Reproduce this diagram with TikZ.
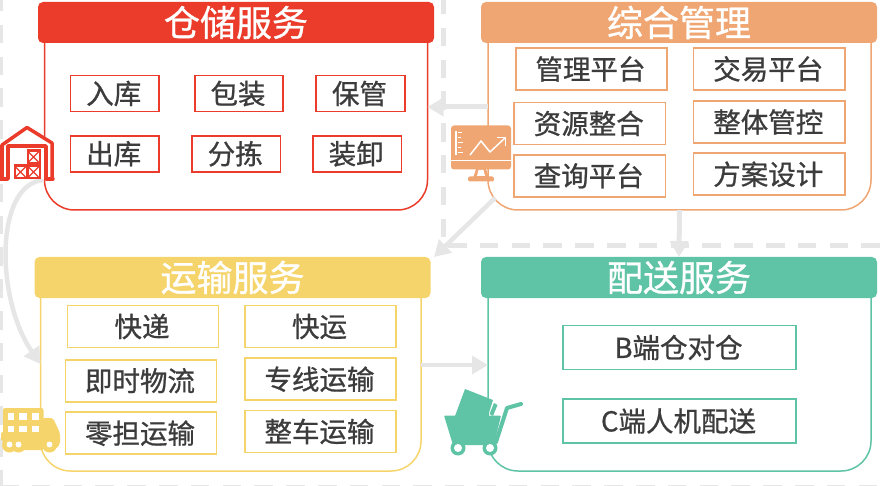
\documentclass[tikz,border=0pt]{standalone}
\usepackage{fontspec}
\setmainfont{Noto Sans CJK SC}[FakeBold=0.8]
\usetikzlibrary{arrows.meta,calc}
\definecolor{cred}{HTML}{EA3B2B}
\definecolor{corange}{HTML}{F0A672}
\definecolor{cyellow}{HTML}{F5D56B}
\definecolor{cgreen}{HTML}{5FC3A6}
\definecolor{cgrey}{HTML}{E6E6E6}
\definecolor{ctext}{HTML}{3C3C3C}
\tikzset{
  anchorbox/.style={rectangle,inner sep=0pt,outer sep=0pt},
  bodyline/.style={line width=1.5pt,rounded corners=30pt},
  header/.style={rectangle,rounded corners=5pt,fill=#1,text=white,inner sep=0pt,outer sep=0pt,
    minimum width=396pt,minimum height=41pt,font=\fontsize{36}{36}\selectfont},
  tag/.style={rectangle,draw=#1,line width=1.7pt,fill=white,text=ctext,inner sep=0pt,outer sep=0pt,
    font=\fontsize{27.5}{28}\selectfont},
  redtag/.style={tag=cred,minimum width=88.5pt,minimum height=36pt},
  orangetag/.style={tag=corange,minimum width=151.5pt,minimum height=42pt},
  yellowtag/.style={tag=cyellow,minimum width=151pt,minimum height=42pt},
  greentag/.style={tag=cgreen,minimum width=233pt,minimum height=44pt},
  dashline/.style={cgrey,line width=#1,dash pattern=on 18.5pt off 13.3pt},
  flow/.style={cgrey,line width=#1,-{Triangle[length=16pt,width=18pt]}},
}
\begin{document}
\begin{tikzpicture}[x=1pt,y=-1pt]
\path[use as bounding box,clip] (0,0) rectangle (880,486);
% body frames (geometry only)
\node[anchorbox,minimum width=383pt,minimum height=168pt] (cb) at (236,126) {};
\node[anchorbox,minimum width=383pt,minimum height=168pt] (zb) at (679.5,126) {};
\node[anchorbox,minimum width=380.5pt,minimum height=173pt] (yb) at (230.75,384.5) {};
\node[anchorbox,minimum width=383pt,minimum height=173pt] (gb) at (679.5,384.5) {};
\node[anchorbox,minimum width=53pt,minimum height=54pt] (wh) at (26.5,153) {};
% dashed separators
\coordinate (dvt) at (443.5,-4);
\coordinate (dvb) at (443.5,245.5);
\coordinate (dhl) at (448,245.5);
\coordinate (dhr) at (880,245.5);
\coordinate (dlt) at (0.5,-7);
\coordinate (dlb) at (0.5,486);
\coordinate (dbl) at (0,486);
\coordinate (dbr) at (880,486);
\draw[dashline=5pt] (dvt) -- (dvb);
\draw[dashline=5pt] (dhl) -- (dhr);
\draw[dashline=4pt] (dlt) -- (dlb);
\draw[dashline=3pt] (dbl) -- (dbr);
% card outlines
\draw[bodyline,cred] (cb.north west) -- (cb.south west) -- (cb.south east) -- (cb.north east);
\draw[bodyline,corange] (zb.north west) -- (zb.south west) -- (zb.south east) -- (zb.north east);
\draw[bodyline,cyellow] (yb.north west) -- (yb.south west) -- (yb.south east) -- (yb.north east);
\draw[bodyline,cgreen] (gb.north west) -- (gb.south west) -- (gb.south east) -- (gb.north east);
% headers
\node[header=cred] (ch) at (236,22.5) {仓储服务};
\node[header=corange] (zh) at (679,22.5) {综合管理};
\node[header=cyellow] (yh) at (232.5,277.5) {运输服务};
\node[header=cgreen] (gh) at (679,277.5) {配送服务};
% connectors
\draw[flow=5pt] ([yshift=19pt]zb.west) -- ([yshift=19pt]cb.east);
\draw[flow=4.5pt] ([xshift=7pt,yshift=-72pt]zb.west) -- ([xshift=3.5pt]yh.north east);
\draw[flow=5pt] (zb.south) -- (gh.north);
\draw[flow=3.5pt] ([yshift=19.5pt]yb.east) -- ([yshift=19.5pt]gb.west);
\draw[flow=4.5pt] ([xshift=-10pt]wh.south east) .. controls (-6,185) and (-4,300) .. ([yshift=20.5pt]yb.west);
% red tags
\node[redtag] (c1) at (114.75,93.5) {\hspace{-2pt}入库};
\node[redtag] (c2) at (239,93.5) {\hspace{-2pt}包装};
\node[redtag] (c3) at (360.5,93.5) {\hspace{-2pt}保管};
\node[redtag] (c4) at (114.75,153.75) {\hspace{-2pt}出库};
\node[redtag] (c5) at (236.25,153.75) {\hspace{-2pt}分拣};
\node[redtag] (c6) at (357.25,153.75) {\hspace{-2pt}装卸};
% orange tags
\node[orangetag] (z1) at (591.5,69) {\hspace{-2pt}管理平台};
\node[orangetag] (z2) at (769.25,69) {\hspace{-2pt}交易平台};
\node[orangetag] (z3) at (589.75,123.5) {\hspace{-2pt}资源整合};
\node[orangetag] (z4) at (769.25,122) {\hspace{-2pt}整体管控};
\node[orangetag] (z5) at (589.75,175.75) {\hspace{-2pt}查询平台};
\node[orangetag] (z6) at (769.25,174.25) {\hspace{-2pt}方案设计};
% yellow tags
\node[yellowtag] (y1) at (143,326.5) {\hspace{-2pt}快递};
\node[yellowtag] (y2) at (320.5,326.5) {\hspace{-2pt}快运};
\node[yellowtag] (y3) at (141,380.75) {\hspace{-2pt}即时物流};
\node[yellowtag] (y4) at (320.5,379.25) {\hspace{-2pt}专线运输};
\node[yellowtag] (y5) at (141,433.25) {\hspace{-2pt}零担运输};
\node[yellowtag] (y6) at (320.5,431.5) {\hspace{-2pt}整车运输};
% green tags
\node[greentag] (g1) at (679.5,347.5) {\hspace{-2pt}B端仓对仓};
\node[greentag] (g2) at (679.5,421) {\hspace{-2pt}C端人机配送};
% warehouse icon
\fill[white] (1,179) -- (1,145) -- (27,127) -- (53,145) -- (53,179) -- cycle;
\draw[cred,line width=3.5pt,line join=round,line cap=round] (2,179) -- (2,145) -- (27,127.5) -- (52,143) -- (52,179);
\draw[cred,line width=3.5pt,line join=round,line cap=round] (0,179) -- (8,179) -- (8,146) -- (46,146) -- (46,179) -- (53,179);
\fill[cred] (13.5,164.5) rectangle (40.5,179.5);
\fill[cred] (26.5,149.5) rectangle (40.5,165);
\foreach \cx/\cy in {20.5/172,33.5/172,33.5/157}{
  \fill[white] (\cx-5,\cy-5) rectangle (\cx+5,\cy+5);
  \draw[cred,line width=1.3pt] (\cx-5,\cy-5) -- (\cx+5,\cy+5) (\cx-5,\cy+5) -- (\cx+5,\cy-5);
}
% monitor icon
\fill[corange,rounded corners=3pt] (451,125.5) rectangle (511,169.5);
\draw[white,line width=1pt] (451,161) -- (511,161);
\fill[corange] (476,169) -- (486,169) -- (489,178) -- (473,178) -- cycle;
\fill[white] (478.5,170) -- (483.5,170) -- (485,176) -- (477,176) -- cycle;
\fill[corange,rounded corners=2pt] (468,176.5) rectangle (494,181.5);
\draw[white,line width=1.2pt] (456,131) -- (456,155);
\foreach \ty/\tw in {133/4,138/3,143/5,148/3,153/5}{\draw[white,line width=1pt] (458,\ty) -- (458+\tw,\ty);}
\draw[white,line width=1.5pt,line join=round] (470,155) -- (481,141) -- (490,152) -- (505,138);
\draw[white,line width=1.5pt,line join=round] (497,137.5) -- (505.5,137.5) -- (505.5,146);
% truck icon
\fill[cyellow,rounded corners=2pt] (3,408) rectangle (43.5,450);
\fill[cyellow,rounded corners=2pt] (1,432) rectangle (5,441);
\fill[cyellow,rounded corners=2pt] (42,418) -- (53,418) -- (60,433) -- (60,444) -- (56,449) -- (42,449) -- cycle;
\foreach \wx in {9.5,18.5,49.5}{\fill[cyellow] (\wx,445) circle (7.5pt);}
\foreach \wx in {9.5,18.5,49.5}{\fill[white] (\wx,444.5) circle (3pt);}
\foreach \wx/\ww in {7.5/6.5,18.5/8.5,31.5/7.5}{
  \fill[white] (\wx,413) rectangle (\wx+\ww,419.5);
  \fill[white] (\wx,425.5) rectangle (\wx+\ww,431.5);
}
% cart icon
\fill[cgreen] (465,389) -- (493,400) -- (488,416) -- (455,416) -- cycle;
\fill[cgreen] (494,403) -- (497.5,405) -- (493,416) -- (489.5,414) -- cycle;
\fill[cgreen,rounded corners=1pt] (444,415.5) -- (501,415.5) -- (494,445) -- (453,445) -- cycle;
\draw[cgreen,line width=4pt,line cap=round,line join=round] (521,404) -- (507,408) -- (496,442);
\foreach \wx in {458,490}{
  \fill[cgreen] (\wx,448) circle (7.5pt);
  \fill[white] (\wx,448) circle (4pt);
}
\end{tikzpicture}
\end{document}
